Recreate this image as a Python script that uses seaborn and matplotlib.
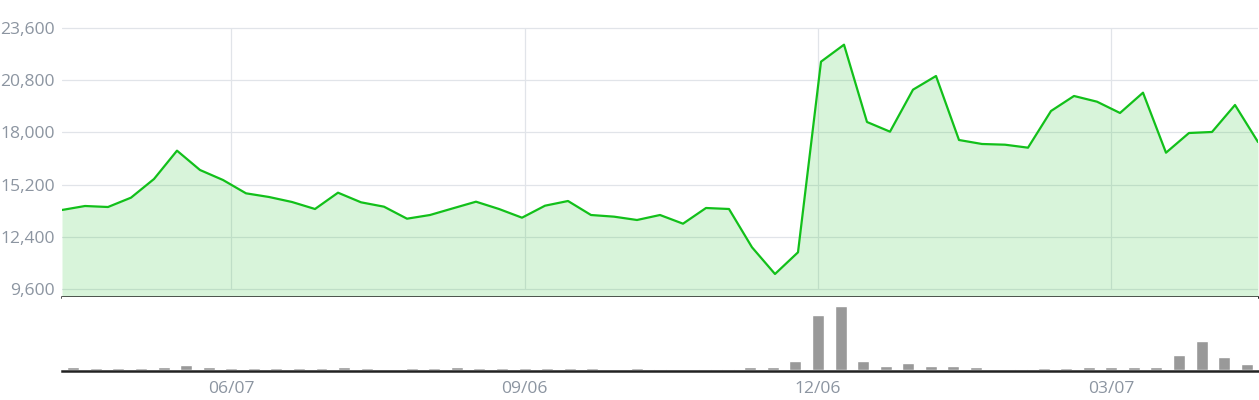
import pandas as pd
import matplotlib
matplotlib.use('Agg')
import matplotlib.pyplot as plt
import seaborn as sns

sns.set_style('white')
plt.rcParams['font.family'] = ['Open Sans', 'DejaVu Sans']

# weekly closing values (top panel)
price = [13838, 14052, 13998, 14499, 15500, 17020, 15983, 15447, 14732, 14535,
         14267, 13891, 14766, 14250, 14015, 13371, 13569, 13928, 14283, 13891,
         13425, 14068, 14320, 13569, 13480, 13301, 13569, 13103, 13945, 13891,
         11837, 10405, 11568, 21793, 22704, 18558, 18038, 20291, 21025, 17592,
         17378, 17340, 17180, 19148, 19953, 19647, 19041, 20130, 16911, 17968,
         18022, 19470, 17485]

# weekly volume (bottom panel, arbitrary units)
volume = [27, 17, 17, 17, 27, 53, 27, 17, 17, 17,
          17, 17, 27, 17, 0, 17, 17, 33, 17, 17,
          17, 17, 17, 17, 0, 17, 10, 0, 10, 10,
          33, 33, 93, 560, 650, 93, 43, 73, 43, 43,
          33, 0, 10, 23, 23, 33, 33, 33, 33, 150,
          290, 133, 60]

weeks = pd.date_range('2020-04-19', periods=len(volume), freq='7D')
week_labels = [d.strftime('%Y-%m-%d') for d in weeks]
tick_idx = [7, 20, 33, 46]
tick_labels = [weeks[i].strftime('%m/%d') for i in tick_idx]
y_ticks = [9600, 12400, 15200, 18000, 20800, 23600]

line_col = '#12c01a'
grid_col = '#e1e4e9'
text_col = '#8c95a1'
W, H = 1259, 400

fig = plt.figure(figsize=(W / 100, H / 100), dpi=100)
ax = fig.add_axes([62 / W, 1 - 297 / H, 1196 / W, 287 / H])
axv = fig.add_axes([62 / W, 1 - 371 / H, 1196 / W, 74 / H])

# price panel
n = len(price)
x = list(range(n))
ymin = 9171
sns.lineplot(x=x, y=price, ax=ax, color=line_col, linewidth=1.6, zorder=3)
ax.fill_between(x, price, ymin, color=line_col, alpha=0.16, linewidth=0, zorder=2)
ax.set_xlim(0, n - 1)
ax.set_ylim(ymin, 24565)
ax.set_yticks(y_ticks)
ax.set_yticklabels([f'{v:,}' for v in y_ticks])
ax.tick_params(axis='y', length=0, pad=5, labelsize=12.6, labelcolor=text_col)
ax.set_xticks([])
ax.grid(axis='y', color=grid_col, linewidth=0.9, zorder=1)
ax.set_axisbelow(True)
# vertical guides aligned with volume-axis ticks
for i in tick_idx:
    xv = (n - 1) * (i + 0.5) / len(volume)
    ax.vlines(xv, y_ticks[0], y_ticks[-1], color=grid_col, linewidth=0.9, zorder=1)
for s in ['top', 'right', 'left']:
    ax.spines[s].set_visible(False)
ax.spines['bottom'].set_color('#222222')
ax.spines['bottom'].set_linewidth(1.8)
ax.set_xlabel('')
ax.set_ylabel('')

# volume panel
vdf = pd.DataFrame({'week': week_labels, 'volume': volume})
sns.barplot(data=vdf, x='week', y='volume', ax=axv, color='#999999',
            saturation=1, width=0.53)
axv.set_xlim(-0.5, len(volume) - 0.5)
axv.set_ylim(-12, 740)
axv.set_yticks([])
axv.set_xticks(tick_idx)
axv.set_xticklabels(tick_labels)
axv.tick_params(axis='x', length=4.5, width=1.5, color='#222222', pad=3,
                labelsize=12.6, labelcolor=text_col)
for s in ['top', 'right', 'left']:
    axv.spines[s].set_visible(False)
axv.spines['bottom'].set_color('#222222')
axv.spines['bottom'].set_linewidth(1.8)
axv.set_xlabel('')
axv.set_ylabel('')

fig.savefig('out.png', dpi=100)
